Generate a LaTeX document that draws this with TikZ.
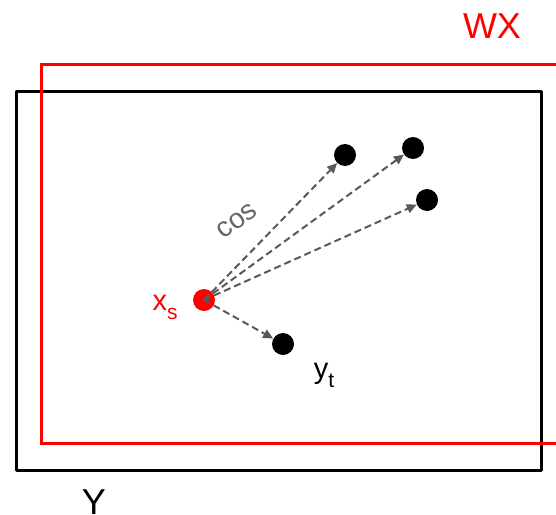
\documentclass[tikz,border=0pt]{standalone}
\usepackage{fontspec}
\setmainfont{Liberation Sans}
\usetikzlibrary{arrows.meta}
\begin{document}
\begin{tikzpicture}[x=1pt,y=-1pt,
  dot/.style={circle,fill=black,inner sep=0pt,minimum size=22pt},
  redot/.style={circle,fill=red,inner sep=0pt,minimum size=22pt},
  arr/.style={draw=black!65,line width=2pt,dash pattern=on 7pt off 4pt,-{Triangle[length=10pt,width=9pt]}},
  lbl/.style={inner sep=0pt,font=\fontsize{29}{34}\selectfont}]
\useasboundingbox (0,0) rectangle (556,514);
\draw[line width=3pt,line join=round] (16,91) rectangle (541,470);
\draw[red,line width=3pt] (565,64) -- (41,64) -- (41,443) -- (565,443);
\node[red,lbl,font=\fontsize{36}{40}\selectfont] (wx) at (492,26) {WX};
\node[lbl,font=\fontsize{36}{40}\selectfont] (ylab) at (94,502) {Y};
\node[redot] (xs) at (204,300) {};
\node[dot] (a) at (345,155) {};
\node[dot] (b) at (413,148) {};
\node[dot] (c) at (427,200) {};
\node[dot] (yt) at (283,344) {};
\draw[arr] (xs.center) -- (a);
\draw[arr] (xs.center) -- (b);
\draw[arr] (xs.center) -- (c);
\draw[arr] (xs.center) -- (yt);
\node[black!60,lbl,font=\fontsize{28}{30}\selectfont,rotate=36] (cos) at (237,221) {cos};
\node[red,lbl,anchor=base] (xsl) at (165,310) {x\raisebox{-9pt}{\fontsize{21}{24}\selectfont s}};
\node[lbl,anchor=base] (ytl) at (324,378) {y\raisebox{-9pt}{\fontsize{21}{24}\selectfont t}};
\end{tikzpicture}
\end{document}
